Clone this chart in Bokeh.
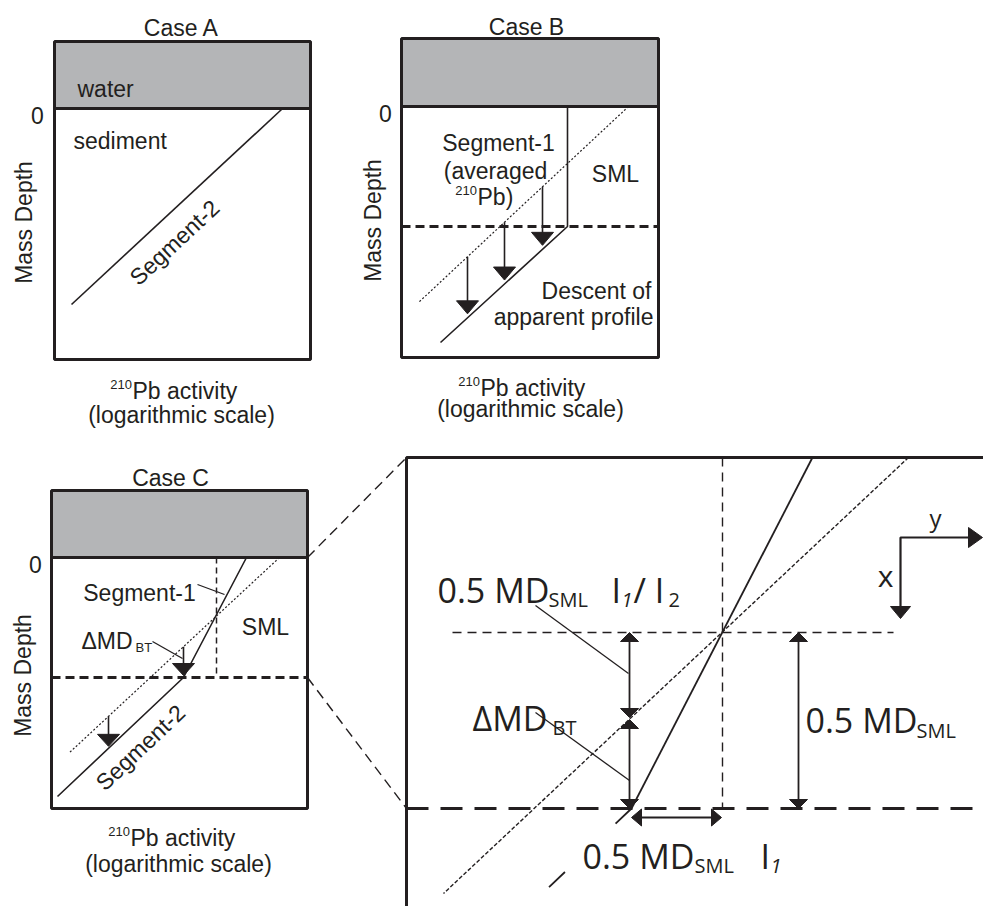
import numpy as np
from bokeh.plotting import figure
from bokeh.models import Range1d
from bokeh.core.properties import value
from bokeh.embed import file_html
from bokeh.resources import INLINE

W, H = 983, 906
INK = "#231f20"
WATER = "#b4b5b7"
SANS = "Liberation Sans"
CAL = "Open Sans"

# ---------------- small panels (Case A, B, C) ----------------
panel_names = ["Case A", "Case B", "Case C"]
panel_left = [54, 401, 51]
panel_right = [310, 658, 307]
panel_top = [41, 38, 490]
panel_bottom = [359, 357, 808]
panel_surface = [108, 106, 557]          # sediment-water interface (mass depth 0)
title_x = [181, 526, 170]
title_y = [27, 26, 477]
zero_x = [37, 385, 35]
depth_label_x = [23, 372, 22]
depth_label_y = [222, 220, 675]
activity_x = [132, 480, 130]             # left edge of "Pb activity"
activity_y = [390, 387, 837]
scale_label_x = [181, 530, 178]
scale_label_y = [414, 408, 863]

# Case A: single log-linear profile
a_seg2_x = [281, 71]
a_seg2_y = [109, 304]

# Case B: mixed layer (uniform) over segment-2, with the undisturbed profile dotted
b_profile_x = [567, 567, 440]
b_profile_y = [106, 226, 342]
b_sml_base = 226
b_dotted_x = [628, 418]
b_dotted_y = [106, 302]
b_arrow_x = [542, 504, 467]

# Case C: segment-1 over segment-2
c_profile_x = [246, 183, 57]
c_profile_y = [557, 677, 796]
c_sml_base = 677
c_mid_x = 216
c_dotted_x = [279, 68]
c_dotted_y = [557, 753]
c_arrow_x = [183, 108]

# ---------------- enlarged detail of Case C ----------------
z_left, z_top = 406, 457
z_mid_y = 632            # half-depth of the SML
z_base_y = 808           # base of the SML
z_mid_x = 722
z_seg1_x = [812, 631]
z_seg1_y = [457, 808]
z_seg2_x = [631, 543]
z_seg2_y = [808, 892]
z_dotted_x = [908, 443]
z_dotted_y = [457, 893]
z_arrow_left_x = 629
z_arrow_left_split = 718
z_arrow_right_x = 798
z_arrow_h_y = 817
z_arrow_h_x = [631, 721]

p = figure(width=W, height=H, x_range=Range1d(0, W), y_range=Range1d(H, 0),
           output_backend="svg", toolbar_location=None, min_border=0,
           x_axis_location=None, y_axis_location=None,
           background_fill_color="white", border_fill_color="white")
p.grid.visible = False
p.outline_line_color = None


def txt(x, y, s, size, font=SANS, align="left", baseline="alphabetic",
        angle=0.0, style="normal"):
    p.text(x=[x], y=[y], text=[s], text_font=value(font),
           text_font_size=value(f"{size}px"), text_align=align,
           text_baseline=baseline, angle=angle, text_color=INK,
           text_font_style=style)


def heads(tips, direction, length, width):
    """Filled triangular arrow heads; direction is a unit vector in canvas units."""
    xs, ys = [], []
    dx, dy = direction
    nx, ny = -dy, dx
    for tx, ty in tips:
        bx, by = tx - dx * length, ty - dy * length
        xs.append([tx, bx + nx * width / 2, bx - nx * width / 2])
        ys.append([ty, by + ny * width / 2, by - ny * width / 2])
    p.patches(xs, ys, fill_color=INK, line_color=INK, line_width=1)


def line(xs, ys, width=1.6, dash="solid"):
    p.line(xs, ys, line_color=INK, line_width=width, line_dash=dash)


def y_on(xv, lx, ly):
    order = np.argsort(lx)
    return float(np.interp(xv, np.asarray(lx)[order], np.asarray(ly)[order]))


# frames, water columns
p.quad(left=panel_left, right=panel_right, top=panel_top, bottom=panel_surface,
       fill_color=WATER, line_color=None)
p.quad(left=panel_left, right=panel_right, top=panel_top, bottom=panel_bottom,
       fill_color=None, line_color=INK, line_width=3)
p.segment(x0=panel_left, y0=panel_surface, x1=panel_right, y1=panel_surface,
          line_color=INK, line_width=3)

for i in range(3):
    txt(title_x[i], title_y[i], panel_names[i], 23, align="center")
    txt(zero_x[i], panel_surface[i] + 7, "0", 23, align="center")
    txt(depth_label_x[i], depth_label_y[i], "Mass Depth", 23, align="center",
        baseline="middle", angle=np.pi / 2)
    txt(activity_x[i] - 0.5, activity_y[i] - 6, "210", 13, align="right")
    txt(activity_x[i], activity_y[i], "Pb activity", 23)
    txt(scale_label_x[i], scale_label_y[i], "(logarithmic scale)", 23, align="center")

# Case A
line(a_seg2_x, a_seg2_y)
txt(77, 88, "water", 23)
txt(73, 140, "sediment", 23)
ang_a = np.arctan2(a_seg2_y[1] - a_seg2_y[0], a_seg2_x[0] - a_seg2_x[1])
txt(174, 242, "Segment-2", 23, align="center", baseline="middle", angle=ang_a)

# Case B
line(b_profile_x, b_profile_y)
line([panel_left[1], panel_right[1]], [b_sml_base, b_sml_base], width=3, dash="9 5")
line(b_dotted_x, b_dotted_y, width=1.2, dash="2 2")
b_tips = []
for xv in b_arrow_x:
    y0 = y_on(xv, b_dotted_x, b_dotted_y)
    y1 = y_on(xv, b_profile_x[1:], b_profile_y[1:]) - 4
    line([xv, xv], [y0, y1 - 8], width=1.6)
    b_tips.append((xv, y1))
heads(b_tips, (0, 1), 13, 22)
txt(498, 142, "Segment-1", 23, align="center")
txt(495, 170, "(averaged", 23, align="center")
txt(476.5, 190, "210", 13, align="right")
txt(477, 196, "Pb)", 23)
txt(615, 173, "SML", 23, align="center")
txt(651, 290, "Descent of", 23, align="right")
txt(653, 316, "apparent profile", 23, align="right")

# Case C
line([c_mid_x, c_mid_x], [panel_surface[2], c_sml_base], width=1.5, dash="6 4")
line([panel_left[2], panel_right[2]], [c_sml_base, c_sml_base], width=3, dash="9 5")
line(c_dotted_x, c_dotted_y, width=1.2, dash="2 2")
line(c_profile_x, c_profile_y)
c_tips = []
for xv in c_arrow_x:
    y0 = y_on(xv, c_dotted_x, c_dotted_y)
    y1 = y_on(xv, c_profile_x[1:], c_profile_y[1:]) - 2
    line([xv, xv], [y0, y1 - 8], width=1.6)
    c_tips.append((xv, y1))
heads(c_tips, (0, 1), 12, 22)
txt(139, 592, "Segment-1", 23, align="center")
line([197, 224], [584, 594], width=1.3)
txt(265, 626, "SML", 23, align="center")
txt(81, 640, "\u0394MD", 23)
txt(135, 647, "BT", 13)
line([152, 182], [641, 658], width=1.3)
ang_c = np.arctan2(c_profile_y[2] - c_profile_y[1], c_profile_x[1] - c_profile_x[2])
txt(140, 747, "Segment-2", 23, align="center", baseline="middle", angle=ang_c)

# connectors from Case C to the enlarged view
line([panel_right[2], z_left], [panel_surface[2], z_top], width=1.4, dash="10 6")
line([panel_right[2], z_left], [c_sml_base, z_base_y], width=1.4, dash="10 6")

# ---------------- enlarged view ----------------
line([z_left, z_left, W], [H, z_top, z_top], width=3)
line([452, 893], [z_mid_y, z_mid_y], width=1.4, dash="9 6")
line([z_mid_x, z_mid_x], [z_top, z_base_y], width=1.4, dash="9 6")
line([z_left, 973], [z_base_y, z_base_y], width=3, dash="22 12")
line(z_dotted_x, z_dotted_y, width=1.4, dash="4 2")
line(z_seg1_x, z_seg1_y, width=1.8)
line(z_seg2_x, z_seg2_y, width=1.8, dash="22 70")

# vertical double arrows
hl, hw = 9, 18
line([z_arrow_left_x] * 2, [z_mid_y + hl, z_arrow_left_split - 1 - hl], width=1.8)
line([z_arrow_left_x] * 2, [z_arrow_left_split + 1 + hl, z_base_y - hl], width=1.8)
heads([(z_arrow_left_x, z_mid_y), (z_arrow_left_x, z_arrow_left_split + 1)], (0, -1), hl, hw)
heads([(z_arrow_left_x, z_arrow_left_split - 1), (z_arrow_left_x, z_base_y)], (0, 1), hl, hw)
line([z_arrow_right_x] * 2, [z_mid_y + hl, z_base_y - hl], width=1.8)
heads([(z_arrow_right_x, z_mid_y)], (0, -1), hl, hw)
heads([(z_arrow_right_x, z_base_y)], (0, 1), hl, hw)
# horizontal double arrow
line([z_arrow_h_x[0] + hl, z_arrow_h_x[1] - hl], [z_arrow_h_y] * 2, width=1.8)
heads([(z_arrow_h_x[0], z_arrow_h_y)], (-1, 0), 10, 17)
heads([(z_arrow_h_x[1], z_arrow_h_y)], (1, 0), 10, 17)

# coordinate icon
line([982 - 12, 900, 900], [537, 537, 618 - 10], width=2.2)
heads([(982, 537)], (1, 0), 14, 20)
heads([(900, 618)], (0, 1), 12, 20)
txt(935, 517, "y", 24, font=CAL, align="center")
txt(885, 575, "x", 30, font=CAL, align="center")

# labels
txt(437, 589, "0.5 MD", 34, font=CAL)
txt(548, 599, "SML", 20, font=CAL)
txt(611, 589, "I", 34, font=CAL)
txt(621, 599, "1", 20, font=CAL, style="italic")
txt(633, 589, "/ I", 34, font=CAL)
txt(668, 599, "2", 20, font=CAL)
line([535, 628], [605, 673], width=1.3)

txt(472, 717, "\u0394MD", 34, font=CAL)
txt(552, 727, "BT", 20, font=CAL)
line([535, 629], [712, 780], width=1.3)

txt(805, 719, "0.5 MD", 34, font=CAL)
txt(916, 730, "SML", 20, font=CAL)

txt(582, 855, "0.5 MD", 34, font=CAL)
txt(694, 865, "SML", 20, font=CAL)
txt(760, 855, "I", 34, font=CAL)
txt(770, 865, "1", 20, font=CAL, style="italic")

open("out.html", "w").write(file_html(p, INLINE))
